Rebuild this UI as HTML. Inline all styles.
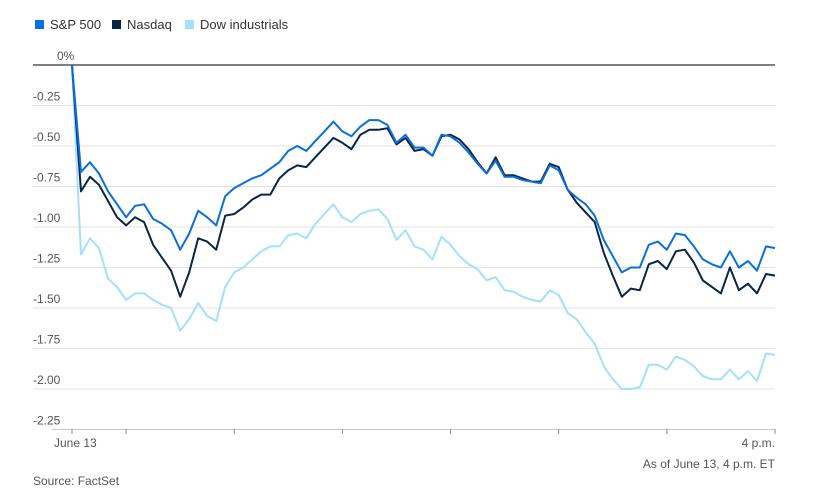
<!DOCTYPE html>
<html><head><meta charset="utf-8"><style>
body{margin:0;background:#fff;font-family:"Liberation Sans",sans-serif;}
svg text{font-family:"Liberation Sans",sans-serif;}
</style></head><body>
<svg width="823" height="494" viewBox="0 0 823 494">
<g id="legend">
 <g><rect x="35" y="20" width="9" height="9" fill="#0a6fdc"/><text x="50" y="29" font-size="13" fill="#333">S&amp;P 500</text></g>
 <g><rect x="112" y="20" width="9" height="9" fill="#0b2545"/><text x="127" y="29" font-size="13" fill="#333">Nasdaq</text></g>
 <g><rect x="185" y="20" width="9" height="9" fill="#a3e0fb"/><text x="200" y="29" font-size="13" fill="#333">Dow industrials</text></g>
</g>
<g id="grid"></g><g id="ylabels"></g><g id="xaxis"></g><g id="series"></g>
<text x="775" y="447" text-anchor="end" font-size="12" fill="#555">4 p.m.</text>
<text x="54" y="447" font-size="12" fill="#555">June 13</text>
<text x="775" y="468" text-anchor="end" font-size="12" fill="#555">As of June 13, 4 p.m. ET</text>
<text x="33" y="485" font-size="12" fill="#555">Source: FactSet</text>
</svg>
<script>
const yTicks=[0,-0.25,-0.5,-0.75,-1,-1.25,-1.5,-1.75,-2,-2.25];
const yTickLabels=["0%","-0.25","-0.50","-0.75","-1.00","-1.25","-1.50","-1.75","-2.00","-2.25"];
const xTicks=[6,18,30,42,54,66,78];
const sp500=[0,-0.66,-0.60,-0.67,-0.78,-0.86,-0.94,-0.87,-0.86,-0.95,-0.98,-1.02,-1.14,-1.04,-0.90,-0.94,-0.99,-0.81,-0.76,-0.73,-0.70,-0.68,-0.64,-0.60,-0.53,-0.50,-0.53,-0.47,-0.41,-0.35,-0.41,-0.44,-0.38,-0.34,-0.34,-0.37,-0.48,-0.43,-0.51,-0.51,-0.56,-0.43,-0.44,-0.48,-0.54,-0.61,-0.67,-0.59,-0.69,-0.69,-0.71,-0.72,-0.73,-0.62,-0.65,-0.77,-0.82,-0.86,-0.93,-1.08,-1.18,-1.28,-1.25,-1.25,-1.11,-1.09,-1.14,-1.04,-1.05,-1.12,-1.20,-1.23,-1.25,-1.15,-1.25,-1.21,-1.27,-1.12,-1.13];
const nasdaq=[0,-0.78,-0.69,-0.74,-0.84,-0.94,-0.99,-0.94,-0.97,-1.11,-1.19,-1.27,-1.43,-1.28,-1.07,-1.09,-1.14,-0.93,-0.92,-0.88,-0.83,-0.80,-0.80,-0.70,-0.65,-0.62,-0.63,-0.57,-0.51,-0.45,-0.48,-0.52,-0.43,-0.40,-0.40,-0.39,-0.49,-0.45,-0.53,-0.52,-0.56,-0.44,-0.43,-0.46,-0.52,-0.60,-0.67,-0.57,-0.68,-0.68,-0.70,-0.72,-0.72,-0.61,-0.63,-0.77,-0.85,-0.91,-0.97,-1.16,-1.30,-1.43,-1.38,-1.39,-1.23,-1.21,-1.26,-1.15,-1.14,-1.22,-1.33,-1.37,-1.41,-1.25,-1.39,-1.35,-1.41,-1.29,-1.30];
const dow=[0,-1.17,-1.07,-1.13,-1.32,-1.37,-1.45,-1.41,-1.41,-1.45,-1.48,-1.50,-1.64,-1.57,-1.47,-1.55,-1.58,-1.37,-1.28,-1.25,-1.20,-1.15,-1.12,-1.12,-1.05,-1.04,-1.07,-0.98,-0.92,-0.86,-0.94,-0.97,-0.92,-0.90,-0.89,-0.95,-1.08,-1.02,-1.12,-1.14,-1.20,-1.06,-1.11,-1.18,-1.23,-1.26,-1.33,-1.31,-1.39,-1.40,-1.43,-1.45,-1.46,-1.39,-1.42,-1.53,-1.57,-1.65,-1.72,-1.86,-1.94,-2.00,-2.00,-1.99,-1.85,-1.85,-1.88,-1.80,-1.82,-1.86,-1.92,-1.94,-1.94,-1.88,-1.94,-1.89,-1.95,-1.78,-1.79];
const NS="http://www.w3.org/2000/svg";
const x0=72,x1=775,nPts=79;
function xs(i){return x0+(x1-x0)*i/(nPts-1);}
function ys(v){return 65-v*162;}
const grid=document.getElementById('grid'),yl=document.getElementById('ylabels'),xa=document.getElementById('xaxis'),ser=document.getElementById('series');
yTicks.forEach((t,k)=>{
 const l=document.createElementNS(NS,'line');
 
 
 l.setAttribute('x1',33);l.setAttribute('x2',x1);l.setAttribute('y1',ys(t));l.setAttribute('y2',ys(t));
 l.setAttribute('stroke',t===0?'#333':'#e2e2e2');l.setAttribute('stroke-width',t===0?1.2:1);
 if(k===yTicks.length-1){l.setAttribute('x1',x0-20);l.setAttribute('stroke','#ccc');}
 if(t!==0&&k!==yTicks.length-1)l.setAttribute('x1',33);
 grid.appendChild(l);
 const tx=document.createElementNS(NS,'text');
 
 
 tx.setAttribute('x',t===0?57:33);tx.setAttribute('y',ys(t)-5);tx.setAttribute('font-size','12');tx.setAttribute('fill','#555');
 tx.textContent=yTickLabels[k];yl.appendChild(tx);
});
[0].concat(xTicks).forEach(i=>{
 const xx=i===0?x0:xs(i);
 const l=document.createElementNS(NS,'line');
 
 
 l.setAttribute('x1',xx);l.setAttribute('x2',xx);l.setAttribute('y1',429);l.setAttribute('y2',434);l.setAttribute('stroke','#888');
 xa.appendChild(l);
});
function draw(arr,color,name){
 const p=document.createElementNS(NS,'polyline');
 
 
 p.setAttribute('points',arr.map((v,i)=>xs(i).toFixed(1)+','+ys(v).toFixed(1)).join(' '));
 p.setAttribute('fill','none');p.setAttribute('stroke',color);p.setAttribute('stroke-width','2');p.setAttribute('stroke-linejoin','round');
 ser.appendChild(p);
}
draw(dow,'#a3e0fb','dow-line');
draw(nasdaq,'#0b2545','nasdaq-line');
draw(sp500,'#0a6fdc','sp500-line');
</script>
</body></html>
